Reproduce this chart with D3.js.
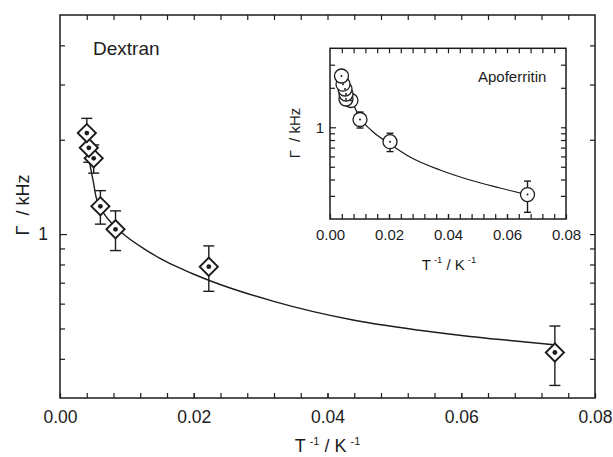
<!DOCTYPE html>
<html>
<head>
<meta charset="utf-8">
<script src="https://cdn.jsdelivr.net/npm/d3@7"></script>
<style>
body { margin: 0; background: #fff; }
svg { display: block; font-family: "Liberation Sans", Arial, sans-serif; }
</style>
</head>
<body>
<svg id="chart" width="613" height="457"></svg>
<script>
// Dextran, main panel
var dextranX = [0.00401, 0.00431, 0.00504, 0.00604, 0.0083, 0.02225, 0.0740];
var dextranY = [2.10, 1.885, 1.745, 1.226, 1.036, 0.787, 0.419];
var dextranErr = [0.24, 0.19, 0.18, 0.15, 0.15, 0.13, 0.09];
var dextranFitX = [0.00419, 0.00459, 0.00498, 0.00538, 0.00588, 0.00673, 0.00797, 0.00997, 0.01246,
                   0.01495, 0.01745, 0.01993, 0.02243, 0.03208, 0.04381, 0.05548, 0.0613, 0.06729, 0.07417];
var dextranFitY = [1.827, 1.621, 1.469, 1.316, 1.229, 1.150, 1.069, 0.981, 0.901,
                   0.837, 0.787, 0.746, 0.710, 0.609, 0.532, 0.488, 0.4715, 0.4577, 0.443];

// Apoferritin, inset
var apoX = [0.0039, 0.00441, 0.00508, 0.00542, 0.00542, 0.0071, 0.01017, 0.02034, 0.06695];
var apoY = [2.46, 2.13, 1.958, 1.794, 1.643, 1.601, 1.147, 0.777, 0.307];
var apoErr = [0.15, 0.15, 0.15, 0.15, 0.15, 0.148, 0.16, 0.124, 0.082];
var apoFitX = [0.00373, 0.00678, 0.01017, 0.01424, 0.02034, 0.02712, 0.03729, 0.04746, 0.05763, 0.06712];
var apoFitY = [2.294, 1.702, 1.177, 0.937, 0.746, 0.594, 0.4727, 0.3966, 0.3446, 0.3048];

// axes
var xTickLabels = ["0.00", "0.02", "0.04", "0.06", "0.08"];
var xMajor = [0, 0.02, 0.04, 0.06, 0.08];
var mainYMinor = [0.4, 0.5, 0.6, 0.7, 0.8, 0.9, 2, 3, 4];
var insetYMinor = [0.3, 0.4, 0.5, 0.6, 0.7, 0.8, 0.9, 2, 3];
var yMajor = [1];

var ink = "#1c1c1c";
var svg = d3.select("#chart");

var x = d3.scaleLinear().domain([0, 0.08]).range([60, 595]);
var y = d3.scaleLog().domain([0.3, 5]).range([398, 15]);
var xi = d3.scaleLinear().domain([0, 0.08]).range([330, 566]);
var yi = d3.scaleLog().domain([0.2, 4]).range([219, 48.3]);

var xMinor = d3.range(1, 20).map(i => i * 0.004);

function styleAxis(g, fs){
    g.select(".domain").remove();
    g.selectAll(".tick line").attr("stroke", ink).attr("stroke-width", 1.2);
    g.selectAll(".tick text").attr("fill", ink).style("font-size", fs + "px")
	.style("font-family", "'Liberation Sans', Arial, sans-serif");
}

function drawAxes(g, xs, ys, yMinor, o){
    var x0 = xs.range()[0], x1 = xs.range()[1];
    var y0 = ys.range()[0], y1 = ys.range()[1];
    // bottom, labelled
    g.append("g").attr("transform", "translate(0," + y0 + ")")
	.call(d3.axisBottom(xs).tickValues(xMajor).tickSize(-o.tick).tickPadding(o.xPad)
	      .tickFormat((d, i) => xTickLabels[i]))
	.call(a => styleAxis(a, o.fs));
    g.append("g").attr("transform", "translate(0," + y0 + ")")
	.call(d3.axisBottom(xs).tickValues(xMinor).tickSize(-o.tick).tickFormat(""))
	.call(a => styleAxis(a, o.fs));
    // top mirror
    g.append("g").attr("transform", "translate(0," + y1 + ")")
	.call(d3.axisTop(xs).tickValues(xMinor).tickSize(-o.tick).tickFormat(""))
	.call(a => styleAxis(a, o.fs));
    // left
    g.append("g").attr("transform", "translate(" + x0 + ",0)")
	.call(d3.axisLeft(ys).tickValues(yMajor).tickSize(-o.tickMajor).tickPadding(o.yPad)
	      .tickFormat(d3.format("d")))
	.call(a => styleAxis(a, o.fs));
    g.append("g").attr("transform", "translate(" + x0 + ",0)")
	.call(d3.axisLeft(ys).tickValues(yMinor).tickSize(-o.tick).tickFormat(""))
	.call(a => styleAxis(a, o.fs));
    // right mirror
    g.append("g").attr("transform", "translate(" + x1 + ",0)")
	.call(d3.axisRight(ys).tickValues(yMajor.concat(yMinor)).tickSize(-o.tick).tickFormat(""))
	.call(a => styleAxis(a, o.fs));
    // frame
    g.append("rect")
	.attr("x", x0).attr("y", y1)
	.attr("width", x1 - x0).attr("height", y0 - y1)
	.attr("fill", "none").attr("stroke", ink).attr("stroke-width", 1.5);
}

function drawErrors(g, xs, ys, xv, yv, ev, cap){
    var eb = g.append("g").attr("stroke", ink).attr("stroke-width", 1.4);
    xv.forEach(function(xx, i){
	var top = ys(yv[i] + ev[i]), bot = ys(yv[i] - ev[i]), cx = xs(xx);
	eb.append("line").attr("x1", cx).attr("x2", cx).attr("y1", top).attr("y2", bot);
	eb.append("line").attr("x1", cx - cap).attr("x2", cx + cap).attr("y1", top).attr("y2", top);
	eb.append("line").attr("x1", cx - cap).attr("x2", cx + cap).attr("y1", bot).attr("y2", bot);
    });
}

function drawFit(g, xs, ys, fx, fy, w){
    var line = d3.line().x(d => xs(d[0])).y(d => ys(d[1])).curve(d3.curveMonotoneX);
    g.append("path")
	.datum(d3.zip(fx, fy))
	.attr("d", line)
	.attr("fill", "none").attr("stroke", ink).attr("stroke-width", w);
}

// ---- main panel
var main = svg.append("g");
drawAxes(main, x, y, mainYMinor, {tick: 5, tickMajor: 7, xPad: 12.5, yPad: 12, fs: 17.5});
drawFit(main, x, y, dextranFitX, dextranFitY, 1.4);
drawErrors(main, x, y, dextranX, dextranY, dextranErr, 5.5);

var diamonds = d3.zip(dextranX, dextranY).reverse();
main.append("g").selectAll("path").data(diamonds).join("path")
    .attr("d", d3.symbol(d3.symbolSquare, 165))
    .attr("transform", d => "translate(" + x(d[0]) + "," + y(d[1]) + ") rotate(45)")
    .attr("fill", "#fff").attr("stroke", ink).attr("stroke-width", 1.9);
main.append("g").selectAll("circle").data(diamonds).join("circle")
    .attr("cx", d => x(d[0])).attr("cy", d => y(d[1])).attr("r", 2.4)
    .attr("fill", ink);

main.append("text")
    .attr("x", 93).attr("y", 55)
    .attr("fill", ink).style("font-size", "19px")
    .text("Dextran");

var xt = main.append("text")
    .attr("x", 327.5).attr("y", 452)
    .attr("text-anchor", "middle").attr("fill", ink).style("font-size", "18px");
xt.append("tspan").text("T");
xt.append("tspan").attr("dx", 4).attr("dy", -7).style("font-size", "11px").text("-1");
xt.append("tspan").attr("dy", 7).text(" / K");
xt.append("tspan").attr("dx", 4).attr("dy", -7).style("font-size", "11px").text("-1");

var yt = main.append("text")
    .attr("transform", "translate(29,205) rotate(-90)")
    .attr("text-anchor", "middle").attr("fill", ink).style("font-size", "18px");
yt.append("tspan").text("Γ");
yt.append("tspan").attr("dx", 10).text("/ kHz");

// ---- inset
var inset = svg.append("g");
drawAxes(inset, xi, yi, insetYMinor, {tick: 5, tickMajor: 6, xPad: 10, yPad: 6, fs: 15});
drawFit(inset, xi, yi, apoFitX, apoFitY, 1.2);
drawErrors(inset, xi, yi, apoX, apoY, apoErr, 3.5);

var rings = d3.zip(apoX, apoY).reverse();
inset.append("g").selectAll("circle").data(rings).join("circle")
    .attr("cx", d => xi(d[0])).attr("cy", d => yi(d[1])).attr("r", 7)
    .attr("fill", "#fff").attr("stroke", ink).attr("stroke-width", 1.3);
inset.append("g").selectAll("circle").data(rings).join("circle")
    .attr("cx", d => xi(d[0])).attr("cy", d => yi(d[1])).attr("r", 1)
    .attr("fill", ink);

inset.append("text")
    .attr("x", 478).attr("y", 82)
    .attr("fill", ink).style("font-size", "15px")
    .text("Apoferritin");

var xti = inset.append("text")
    .attr("x", 449).attr("y", 270)
    .attr("text-anchor", "middle").attr("fill", ink).style("font-size", "15px");
xti.append("tspan").text("T");
xti.append("tspan").attr("dx", 3).attr("dy", -7).style("font-size", "9.5px").text("-1");
xti.append("tspan").attr("dy", 7).text(" / K");
xti.append("tspan").attr("dx", 3).attr("dy", -7).style("font-size", "9.5px").text("-1");

var yti = inset.append("text")
    .attr("transform", "translate(300,133) rotate(-90)")
    .attr("text-anchor", "middle").attr("fill", ink).style("font-size", "15px");
yti.append("tspan").text("Γ");
yti.append("tspan").attr("dx", 8).text("/ kHz");
</script>
</body>
</html>
